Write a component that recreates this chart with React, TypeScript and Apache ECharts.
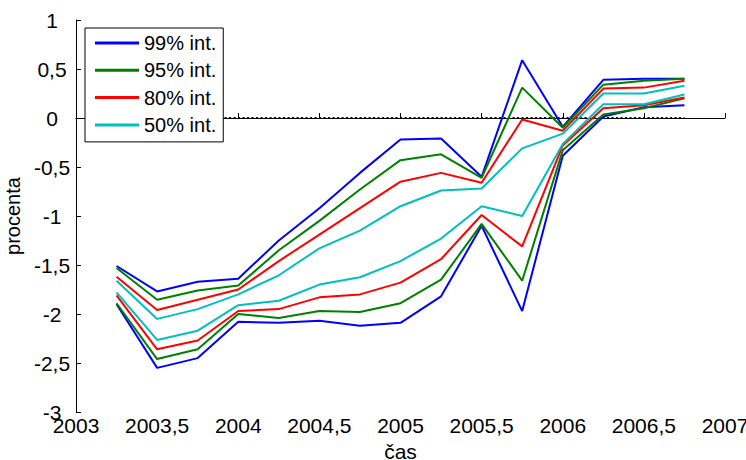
import React, { useEffect, useRef } from 'react';
import * as echarts from 'echarts';

// quarters, 2003.25 .. 2006.75
const quarters = [2003.25, 2003.5, 2003.75, 2004, 2004.25, 2004.5, 2004.75, 2005, 2005.25, 2005.5, 2005.75, 2006, 2006.25, 2006.5, 2006.75];

const upper99 = [-1.51, -1.77, -1.67, -1.64, -1.25, -0.92, -0.56, -0.22, -0.21, -0.6, 0.59, -0.09, 0.39, 0.4, 0.4];
const lower99 = [-1.9, -2.55, -2.45, -2.08, -2.09, -2.07, -2.12, -2.09, -1.82, -1.1, -1.97, -0.385, 0.015, 0.11, 0.13];
const upper95 = [-1.53, -1.855, -1.76, -1.71, -1.35, -1.05, -0.73, -0.43, -0.37, -0.61, 0.31, -0.1, 0.34, 0.38, 0.4];
const lower95 = [-1.89, -2.46, -2.36, -2.0, -2.04, -1.97, -1.98, -1.89, -1.65, -1.08, -1.66, -0.33, 0.035, 0.1, 0.2];
const upper80 = [-1.62, -1.96, -1.855, -1.75, -1.46, -1.19, -0.92, -0.65, -0.56, -0.66, -0.015, -0.13, 0.3, 0.31, 0.38];
const lower80 = [-1.81, -2.36, -2.27, -1.97, -1.95, -1.83, -1.8, -1.68, -1.44, -0.99, -1.31, -0.28, 0.1, 0.13, 0.21];
const upper50 = [-1.66, -2.05, -1.95, -1.8, -1.605, -1.33, -1.15, -0.9, -0.74, -0.72, -0.31, -0.16, 0.25, 0.25, 0.33];
const lower50 = [-1.78, -2.265, -2.17, -1.91, -1.865, -1.7, -1.625, -1.46, -1.23, -0.9, -1.0, -0.265, 0.14, 0.14, 0.24];

const bands = [
  { name: '99% int.', color: '#0000ff', up: upper99, lo: lower99 },
  { name: '95% int.', color: '#008000', up: upper95, lo: lower95 },
  { name: '80% int.', color: '#ff0000', up: upper80, lo: lower80 },
  { name: '50% int.', color: '#00bfbf', up: upper50, lo: lower50 },
];

const FONT = '"Liberation Sans", Arial, sans-serif';
const fmt = (v: number) => String(v).replace('.', ',');

export default function App() {
  const ref = useRef<HTMLDivElement | null>(null);

  useEffect(() => {
    if (!ref.current) return;
    const chart = echarts.init(ref.current, undefined, { renderer: 'svg' });
    const zip = (ys: number[]) => quarters.map((x, i) => [x, ys[i]]);
    const series: any[] = [];
    bands.forEach((b) => {
      [b.up, b.lo].forEach((ys) => {
        series.push({
          name: b.name, type: 'line', data: zip(ys), symbol: 'none',
          lineStyle: { color: b.color, width: 2 }, itemStyle: { color: b.color },
        });
      });
    });
    // dotted zero reference line
    series.push({
      name: 'zero', type: 'line', symbol: 'none', z: 1,
      data: [[quarters[0], 0], [quarters[quarters.length - 1], 0]],
      lineStyle: { color: '#000', width: 2, type: [2, 2.5] },
    });

    chart.setOption({
      animation: false,
      backgroundColor: '#fff',
      textStyle: { fontFamily: FONT },
      grid: { left: 76, right: 21, top: 20, bottom: 48, outerBoundsMode: 'none', containLabel: false },
      legend: {
        data: bands.map((b) => b.name), orient: 'vertical', left: 85, top: 28,
        icon: 'rect', itemWidth: 44, itemHeight: 3, itemGap: 7.3,
        padding: [5, 7, 7, 10], borderColor: '#000', borderWidth: 1, backgroundColor: '#fff',
        textStyle: { fontFamily: FONT, fontSize: 20, color: '#000', lineHeight: 20 },
      },
      xAxis: {
        type: 'value', min: 2003, max: 2007, interval: 0.5,
        name: 'čas', nameLocation: 'middle', nameGap: 28.5,
        nameTextStyle: { fontFamily: FONT, fontSize: 21, color: '#000', lineHeight: 18 },
        axisLine: { lineStyle: { color: '#000', width: 1 } },
        axisTick: { inside: true, length: 5, lineStyle: { color: '#000' } },
        axisLabel: { formatter: fmt, color: '#000', fontSize: 21, fontFamily: FONT, margin: 3 },
        splitLine: { show: false },
      },
      yAxis: {
        type: 'value', min: -3, max: 1, interval: 0.5,
        name: 'procenta', nameLocation: 'middle', nameGap: 46, nameRotate: 90,
        nameTextStyle: { fontFamily: FONT, fontSize: 20, color: '#000' },
        axisLine: { show: true, lineStyle: { color: '#000', width: 1 } },
        axisTick: { show: true, inside: true, length: 5, lineStyle: { color: '#000' } },
        axisLabel: { formatter: fmt, color: '#000', fontSize: 21, fontFamily: FONT, margin: 24, align: 'center' },
        splitLine: { show: false },
      },
      series,
    });
    return () => { chart.dispose(); };
  }, []);

  return <div ref={ref} style={{ position: 'fixed', left: 0, top: 0, width: 746, height: 460 }} />;
}
